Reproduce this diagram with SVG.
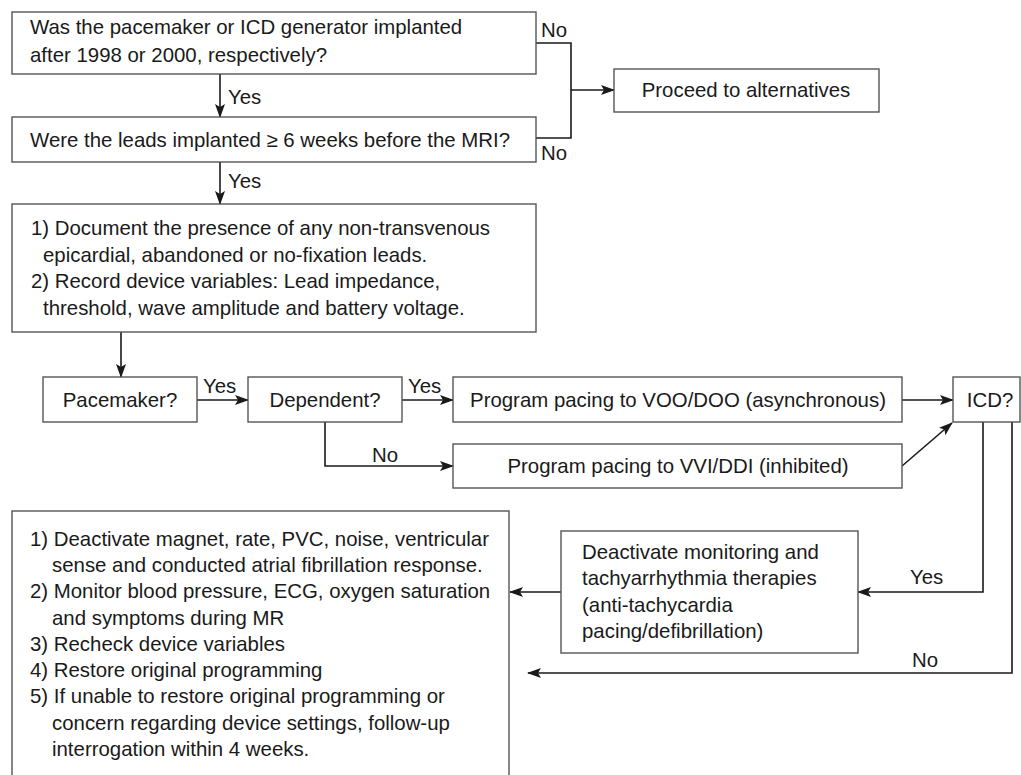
<svg xmlns="http://www.w3.org/2000/svg" width="1021" height="775" viewBox="0 0 1021 775">
<style>
.box{fill:#fff;stroke:#555;stroke-width:1.4}
.t{font-family:"Liberation Sans",Arial,sans-serif;font-size:20.4px;fill:#1a1a1a}
.c{text-anchor:middle}
.ln{fill:none;stroke:#1a1a1a;stroke-width:1.6}
</style>
<defs>
<marker id="ah" viewBox="0 0 14 10" refX="13" refY="5" markerWidth="14" markerHeight="10" markerUnits="userSpaceOnUse" orient="auto">
<path d="M0,0 L14,5 L0,10 L3,5 z" fill="#1a1a1a"/>
</marker>
</defs>
<rect width="1021" height="775" fill="#fff"/>

<g id="connectors">
<path class="ln" d="M220,74 V117" marker-end="url(#ah)"/>
<text class="t" x="228" y="104">Yes</text>
<path class="ln" d="M220,162 V204" marker-end="url(#ah)"/>
<text class="t" x="228" y="188">Yes</text>
<path class="ln" d="M536,43 H571 V138 H536"/>
<path class="ln" d="M571,90 H614" marker-end="url(#ah)"/>
<text class="t" x="541" y="37">No</text>
<text class="t" x="541" y="160">No</text>
<path class="ln" d="M121,332 V377" marker-end="url(#ah)"/>
<path class="ln" d="M197,400 H248" marker-end="url(#ah)"/>
<text class="t" x="203" y="393">Yes</text>
<path class="ln" d="M402,400 H453" marker-end="url(#ah)"/>
<text class="t" x="408" y="393">Yes</text>
<path class="ln" d="M325,422 V466 H453" marker-end="url(#ah)"/>
<text class="t" x="372" y="462">No</text>
<path class="ln" d="M902,400 H953" marker-end="url(#ah)"/>
<path class="ln" d="M902,466 L952,423" marker-end="url(#ah)"/>
<path class="ln" d="M983,422 V592 H858" marker-end="url(#ah)"/>
<text class="t" x="910" y="584">Yes</text>
<path class="ln" d="M1012,422 V673 H528" marker-end="url(#ah)"/>
<text class="t" x="912" y="667">No</text>
<path class="ln" d="M561,592 H510" marker-end="url(#ah)"/>
</g>

<g id="q-generator">
<rect class="box" x="12" y="12" width="524" height="62"/>
<text class="t" x="30" y="34">Was the pacemaker or ICD generator implanted</text>
<text class="t" x="30" y="62">after 1998 or 2000, respectively?</text>
</g>

<g id="q-leads">
<rect class="box" x="12" y="117" width="524" height="45"/>
<text class="t" x="30" y="147">Were the leads implanted ≥ 6 weeks before the MRI?</text>
</g>

<g id="alternatives">
<rect class="box" x="614" y="69" width="265" height="43"/>
<text class="t c" x="746" y="97">Proceed to alternatives</text>
</g>

<g id="document">
<rect class="box" x="12" y="204" width="524" height="128"/>
<text class="t" x="31" y="235">1) Document the presence of any non-transvenous</text>
<text class="t" x="43" y="262">epicardial, abandoned or no-fixation leads.</text>
<text class="t" x="31" y="288">2) Record device variables: Lead impedance,</text>
<text class="t" x="43" y="315">threshold, wave amplitude and battery voltage.</text>
</g>

<g id="pacemaker">
<rect class="box" x="43" y="377" width="154" height="45"/>
<text class="t c" x="120" y="407">Pacemaker?</text>
</g>

<g id="dependent">
<rect class="box" x="248" y="377" width="154" height="45"/>
<text class="t c" x="325" y="407">Dependent?</text>
</g>

<g id="voo">
<rect class="box" x="453" y="377" width="449" height="45"/>
<text class="t c" x="678" y="407">Program pacing to VOO/DOO (asynchronous)</text>
</g>

<g id="vvi">
<rect class="box" x="453" y="444" width="449" height="44"/>
<text class="t c" x="678" y="473">Program pacing to VVI/DDI (inhibited)</text>
</g>

<g id="icd">
<rect class="box" x="953" y="377" width="67" height="45"/>
<text class="t c" x="990" y="407">ICD?</text>
</g>

<g id="deactivate">
<rect class="box" x="561" y="531" width="297" height="122"/>
<text class="t" x="582" y="559">Deactivate monitoring and</text>
<text class="t" x="582" y="585">tachyarrhythmia therapies</text>
<text class="t" x="582" y="612">(anti-tachycardia</text>
<text class="t" x="582" y="638">pacing/defibrillation)</text>
</g>

<g id="procedure">
<rect class="box" x="12" y="511" width="497" height="280"/>
<text class="t" x="30" y="546">1) Deactivate magnet, rate, PVC, noise, ventricular</text>
<text class="t" x="52" y="572">sense and conducted atrial fibrillation response.</text>
<text class="t" x="30" y="598">2) Monitor blood pressure, ECG, oxygen saturation</text>
<text class="t" x="52" y="625">and symptoms during MR</text>
<text class="t" x="30" y="651">3) Recheck device variables</text>
<text class="t" x="30" y="677">4) Restore original programming</text>
<text class="t" x="30" y="703">5) If unable to restore original programming or</text>
<text class="t" x="52" y="730">concern regarding device settings, follow-up</text>
<text class="t" x="52" y="756">interrogation within 4 weeks.</text>
</g>
</svg>
